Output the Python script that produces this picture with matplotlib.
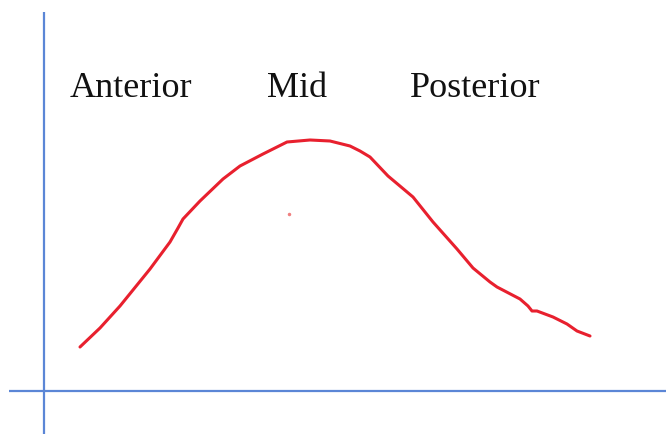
import matplotlib
matplotlib.use('Agg')
import matplotlib.pyplot as plt
import numpy as np

# labels over the curve
labels = ['Anterior', 'Mid', 'Posterior']
label_x = [26, 223, 366]
label_y = 295

# hand drawn curve, origin at the axis crossing
curve_x = [36, 56, 76, 106, 126, 134, 139, 156, 179, 196, 219, 243, 266, 286,
           306, 316, 326, 344, 369, 389, 413, 429, 446, 453, 476, 484, 488, 493,
           509, 523, 533, 546]
curve_y = [44, 63, 85, 122, 149, 163, 172, 190, 212, 225, 237, 249, 251, 250,
           245, 240, 234, 215, 194, 169, 142, 123, 109, 104, 92, 85, 80, 80,
           74, 67, 60, 55]

# stray dot
dot_x = [245]
dot_y = [177]

fig = plt.figure(figsize=(6.66, 4.35), dpi=100)
ax = fig.add_axes([0, 0, 1, 1])
ax.set_xlim(-44, 622)
ax.set_ylim(-43, 392)
ax.axis('off')

axis_col = '#5b86d6'
ax.plot([0, 0], [-43, 379], color=axis_col, lw=1.6, solid_capstyle='butt')
ax.plot([-35, 622], [0, 0], color=axis_col, lw=1.6, solid_capstyle='butt')

ax.plot(curve_x, curve_y, color='#e8202e', lw=2.2,
        solid_joinstyle='round', solid_capstyle='round')
ax.plot(dot_x, dot_y, 'o', color='#f08080', markersize=1.5)

for lab, x in zip(labels, label_x):
    ax.text(x, label_y, lab, fontsize=26, family='Liberation Serif',
            ha='left', va='baseline', color='#111111')

fig.savefig('out.png', dpi=100)
